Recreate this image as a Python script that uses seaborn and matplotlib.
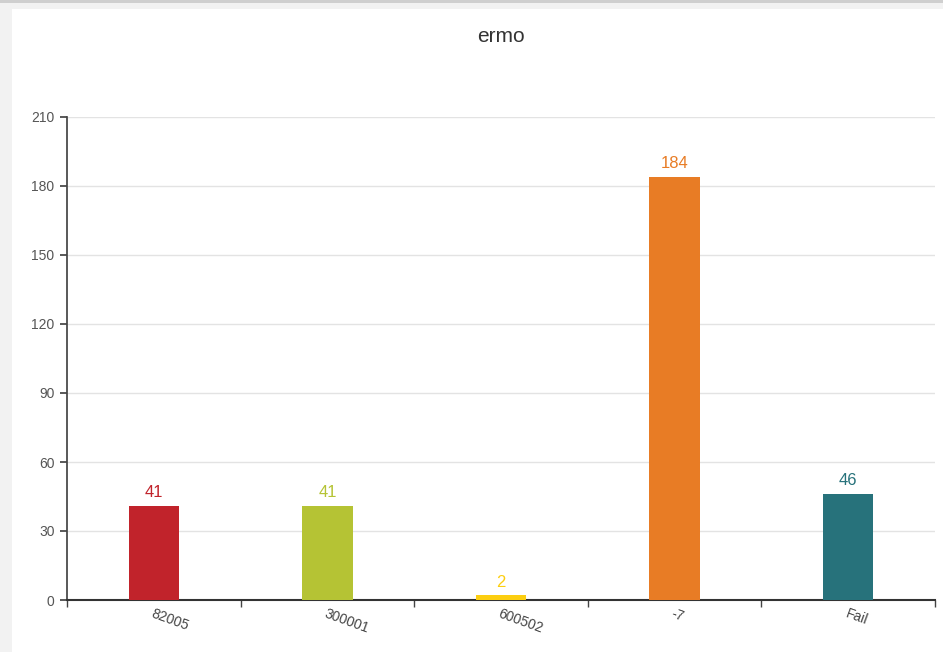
import matplotlib
matplotlib.use('Agg')
import matplotlib.pyplot as plt
import seaborn as sns
import pandas as pd
from matplotlib.patches import Rectangle

# chart data
categories = ['82005', '300001', '600502', '-7', 'Fail']
counts = [41, 41, 2, 184, 46]
bar_colors = ['#C1232B', '#B5C334', '#FCCE10', '#E87C25', '#27727B']
y_ticks = [0, 30, 60, 90, 120, 150, 180, 210]

df = pd.DataFrame({'category': categories, 'count': counts})

sns.set_theme(style='white')
plt.rcParams['font.family'] = ['Liberation Sans', 'DejaVu Sans']

fig = plt.figure(figsize=(9.43, 6.52), dpi=100, facecolor='#f2f2f2')
# white panel with a thin grey strip on the left and top
fig.patches.append(Rectangle((12 / 943, 0), 1, 1 - 9 / 652, transform=fig.transFigure,
                             facecolor='white', edgecolor='none', zorder=-10))
fig.patches.append(Rectangle((0, 1 - 3 / 652), 1, 3 / 652, transform=fig.transFigure,
                             facecolor='#cfcfcf', edgecolor='none', zorder=-10))

ax = fig.add_axes([67 / 943, 52 / 652, 868 / 943, 483 / 652])
ax.set_zorder(5)
ax.set_facecolor('none')

sns.barplot(data=df, x='category', y='count', hue='category', palette=bar_colors,
            legend=False, width=0.29, saturation=1, linewidth=0, ax=ax, zorder=3)

for i, v in enumerate(counts):
    ax.text(i, v + 2.5, str(v), ha='center', va='bottom', fontsize=12,
            color=bar_colors[i], zorder=4)

ax.set_xlim(-0.5, len(categories) - 0.5)
ax.set_ylim(0, 210)
ax.set_yticks(y_ticks)
ax.yaxis.grid(True, color='#e3e3e3', linewidth=1)
ax.set_axisbelow(True)

ax.set_xlabel('')
ax.set_ylabel('')
ax.set_title('ermo', fontsize=15, color='#333333', pad=54)

for side in ['top', 'right']:
    ax.spines[side].set_visible(False)
ax.spines['left'].set_color('#444444')
ax.spines['bottom'].set_color('#333333')
ax.spines['bottom'].set_linewidth(1.5)

ax.tick_params(axis='y', left=True, length=5, color='#444444', labelsize=10,
               labelcolor='#555555', pad=4)
# category boundary ticks on x
ax.set_xticks([i - 0.5 for i in range(len(categories) + 1)], minor=True)
ax.tick_params(axis='x', which='minor', bottom=True, length=5, color='#444444')
ax.tick_params(axis='x', which='major', bottom=False, length=0, pad=5,
               labelsize=10, labelcolor='#444444')
ax.set_xticks(range(len(categories)))
ax.set_xticklabels(categories, rotation=-20, ha='left', rotation_mode='anchor')

fig.savefig('out.png', dpi=100, facecolor=fig.get_facecolor())
